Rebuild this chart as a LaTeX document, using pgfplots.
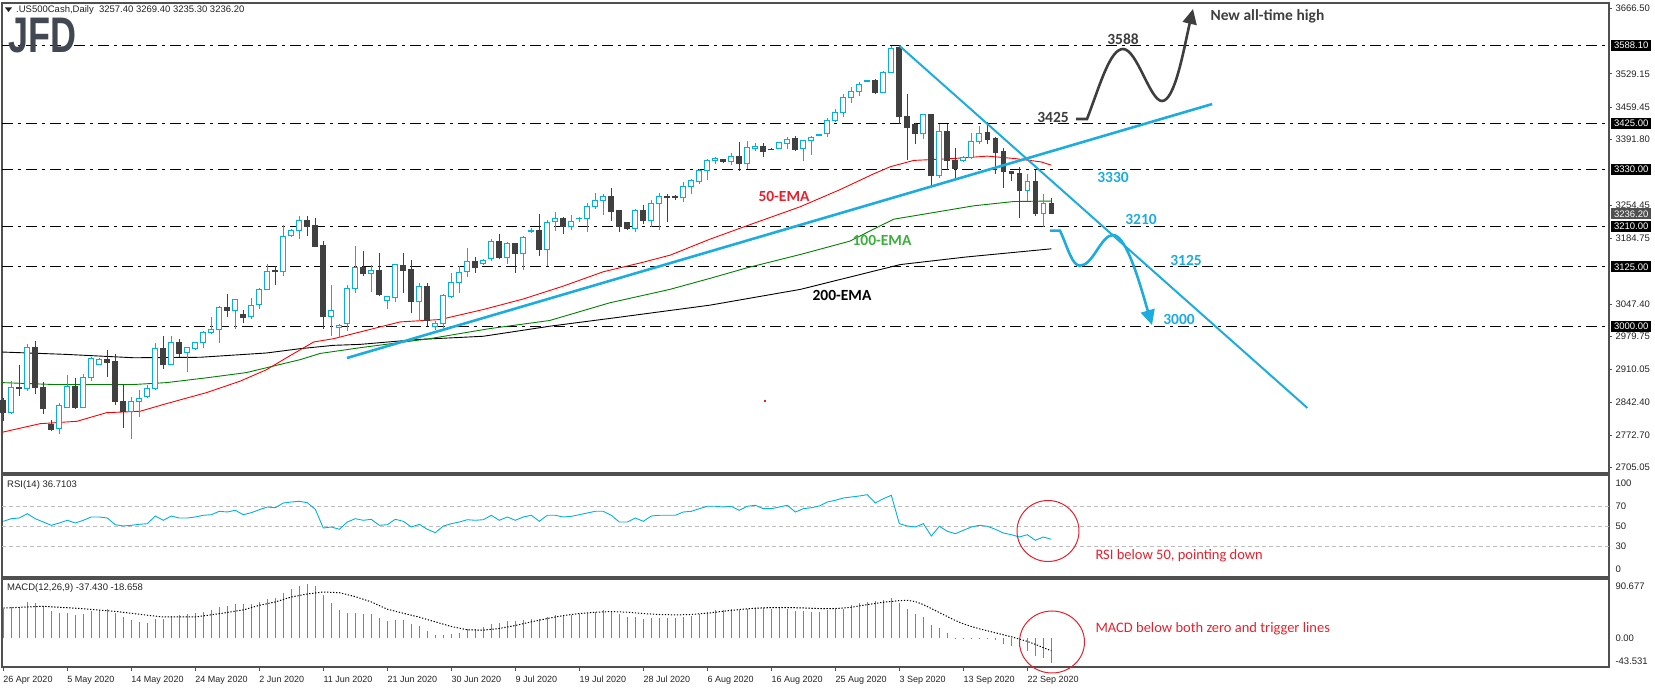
\documentclass[border=0pt]{standalone}
\usepackage{pgfplots}
\pgfplotsset{compat=1.18}
\usepackage{pgfplotstable}
\usepackage{fontspec}
\setmainfont{Liberation Sans}
\newfontfamily\calib{Carlito}
\usetikzlibrary{arrows.meta}

\definecolor{upc}{RGB}{0,178,222}
\definecolor{dnc}{RGB}{64,64,64}
\definecolor{trendc}{RGB}{28,172,222}
\definecolor{emared}{RGB}{255,0,0}
\definecolor{emagreen}{RGB}{0,128,0}
\definecolor{framec}{RGB}{80,80,80}
\definecolor{labc}{RGB}{35,35,35}
\definecolor{annred}{RGB}{232,32,44}
\definecolor{anngreen}{RGB}{60,175,60}
\definecolor{anndark}{RGB}{62,62,62}
\definecolor{logoc}{RGB}{66,72,82}
\definecolor{gridc}{RGB}{190,190,190}
\definecolor{histc}{RGB}{30,165,208}
\definecolor{pricebox}{RGB}{80,80,80}

\newcommand\lab{\fontsize{9.5}{10}\selectfont}
\newcommand\ann{\calib\bfseries\fontsize{15.5}{16}\selectfont}

% daily candles, bar index from 26 Apr 2020
\pgfplotstableread{
i o h l c
0 2846 2850 2802 2820
1 2821 2886 2818 2872
2 2873 2919 2855 2871
3 2870 2964 2865 2956
4 2956 2971 2860 2872
5 2872 2885 2818 2828
6 2795 2804 2781 2785
7 2786 2841 2776 2835
8 2832 2898 2832 2874
9 2874 2892 2828 2832
10 2832 2900 2829 2893
11 2893 2936 2886 2933
12 2922 2934 2920 2931
13 2931 2952 2895 2926
14 2927 2943 2836 2844
15 2844 2880 2788 2823
16 2823 2853 2764 2844
17 2844 2867 2811 2849
18 2855 2879 2851 2870
19 2870 2966 2867 2954
20 2954 2980 2912 2920
21 2920 2980 2920 2968
22 2968 2975 2936 2945
23 2947 2956 2906 2956
24 2954 2968 2952 2968
25 2966 2992 2956 2987
26 2987 3020 2985 2994
27 2994 3043 2966 3040
28 3040 3068 3020 3033
29 3033 3056 2996 3056
30 3026 3034 3008 3020
31 3021 3061 3017 3045
32 3047 3082 3036 3077
33 3077 3132 3077 3116
34 3118 3128 3087 3115
35 3115 3212 3106 3188
36 3190 3205 3188 3202
37 3202 3232 3183 3223
38 3223 3232 3190 3209
39 3211 3228 3167 3169
40 3170 3179 2996 3022
41 3022 3087 2980 3035
42 2998 3006 2977 3003
43 3006 3087 2990 3080
44 3080 3168 3071 3123
45 3123 3158 3106 3112
46 3112 3130 3072 3118
47 3118 3155 3064 3068
48 3054 3065 3036 3063
49 3062 3130 3052 3130
50 3128 3155 3070 3118
51 3120 3139 3028 3052
52 3052 3091 3014 3084
53 3084 3092 3001 3014
54 3000 3012 2994 3006
55 3006 3068 2998 3065
56 3064 3112 3061 3092
57 3092 3128 3070 3113
58 3115 3164 3105 3137
59 3137 3146 3113 3123
60 3132 3142 3129 3139
61 3142 3183 3137 3179
62 3179 3193 3141 3144
63 3144 3177 3132 3174
64 3174 3174 3113 3153
65 3153 3190 3119 3186
66 3200 3207 3197 3202
67 3202 3235 3148 3162
68 3162 3223 3127 3219
69 3220 3241 3200 3226
70 3226 3230 3195 3209
71 3209 3233 3202 3221
72 3226 3229 3220 3227
73 3226 3258 3198 3251
74 3251 3280 3247 3265
75 3265 3278 3234 3273
76 3273 3291 3221 3242
77 3243 3245 3199 3209
78 3218 3220 3202 3205
79 3205 3246 3198 3243
80 3243 3254 3214 3223
81 3223 3265 3209 3259
82 3259 3280 3202 3272
83 3272 3277 3219 3270
84 3272 3275 3265 3270
85 3270 3303 3261 3293
86 3293 3310 3277 3307
87 3305 3331 3299 3327
88 3327 3352 3307 3347
89 3347 3355 3340 3352
90 3350 3352 3343 3345
91 3345 3364 3338 3356
92 3356 3387 3326 3341
93 3341 3389 3331 3375
94 3374 3385 3368 3377
95 3377 3385 3355 3366
96 3372 3373 3370 3371
97 3373 3387 3371 3385
98 3384 3396 3371 3391
99 3394 3400 3368 3371
100 3373 3390 3347 3390
101 3389 3399 3359 3396
102 3401 3403 3400 3402
103 3404 3437 3397 3432
104 3432 3455 3429 3448
105 3448 3486 3439 3479
106 3479 3502 3469 3492
107 3492 3512 3483 3507
108 3513 3517 3512 3516
109 3516 3518 3486 3491
110 3491 3535 3490 3532
111 3532 3588 3530 3583
112 3584 3588 3424 3439
113 3439 3486 3348 3418
114 3424 3427 3382 3404
115 3404 3446 3392 3444
116 3444 3446 3296 3317
117 3317 3424 3312 3408
118 3408 3425 3327 3349
119 3349 3375 3310 3331
120 3348 3357 3345 3355
121 3355 3406 3352 3387
122 3387 3420 3382 3405
123 3406 3429 3382 3392
124 3394 3396 3320 3364
125 3366 3373 3291 3324
126 3324 3326 3305 3320
127 3320 3334 3228 3286
128 3286 3320 3263 3305
129 3305 3329 3232 3237
130 3237 3278 3209 3257
131 3257.4 3269.4 3235.3 3236.2
}\candles

\pgfplotstableread{
i v
0 54.7
1 57.3
2 58
3 62.3
4 57.3
5 54
6 50.7
7 53
8 55.7
9 53
10 55.7
11 59
12 59
13 58
14 51.3
15 50
16 50.7
17 51.7
18 52.3
19 60
20 55.7
21 60
22 58
23 58
24 59
25 60.7
26 61.3
27 64.7
28 64
29 65.7
30 61.3
31 63.3
32 66.3
33 69
34 68.3
35 73
36 74
37 74.7
38 73.3
39 66.7
40 48
41 49
42 46.7
43 54
44 57.3
45 55.7
46 56.7
47 50.7
48 51.3
49 56.7
50 54.7
51 49
52 51.7
53 46.7
54 43.3
55 50
56 52.3
57 54
58 56.3
59 55.7
60 56.3
61 60.7
62 55.7
63 59
64 55.7
65 59
66 60.7
67 54.7
68 60.7
69 60.7
70 59
71 59.7
72 61.3
73 63
74 64.7
75 64.7
76 60.7
77 54
78 54
79 58
80 54.7
81 60
82 60.7
83 60.7
84 60.7
85 64
86 64.7
87 67.3
88 69.7
89 69.7
90 69
91 69.7
92 65.7
93 69.7
94 70.7
95 67.3
96 67.3
97 69
98 70.7
99 64
100 67.3
101 68.3
102 70
103 74
104 75.7
105 78
106 79
107 80
108 81.3
109 73
110 77.3
111 80.7
112 52.3
113 50
114 49
115 52.3
116 40
117 49.7
118 44.7
119 42.3
120 45.7
121 49
122 50.7
123 49.7
124 46.7
125 43
126 41.3
127 39
128 41.3
129 35.7
130 39
131 36.7
}\rsi

\pgfplotstableread{
i v
0 44.8
1 47.3
2 47.3
3 54.9
4 53.4
5 48.9
6 41.3
7 38.3
8 38.3
9 34.8
10 36.8
11 41.8
12 43.3
13 43.8
14 38.3
15 32.3
16 28.3
17 24.7
18 23.2
19 29.8
20 29.8
21 33.8
22 34.8
23 37.3
24 38.3
25 39.8
26 43.3
27 47.3
28 48.9
29 51.4
30 51.4
31 51.4
32 54.9
33 59.9
34 60.9
35 68.4
36 74.0
37 79.0
38 81.5
39 79.0
40 64.9
41 53.4
42 43.3
43 38.3
44 38.3
45 36.3
46 36.3
47 31.3
48 26.3
49 28.3
50 28.3
51 21.2
52 18.2
53 11.2
54 5.6
55 5.6
56 7.1
57 8.6
58 13.6
59 13.6
60 17.2
61 22.2
62 23.2
63 25.7
64 26.3
65 27.3
66 29.8
67 29.8
68 32.3
69 34.8
70 34.8
71 34.8
72 37.3
73 38.8
74 39.8
75 43.3
76 40.8
77 37.3
78 32.3
79 32.3
80 29.8
81 31.3
82 31.3
83 31.3
84 31.3
85 32.3
86 33.8
87 36.3
88 39.8
89 43.3
90 43.3
91 44.8
92 43.3
93 44.8
94 45.8
95 45.8
96 44.8
97 45.8
98 44.8
99 41.3
100 41.3
101 39.8
102 39.8
103 43.3
104 43.8
105 44.8
106 50.9
107 53.4
108 54.9
109 55.9
110 57.4
111 60.9
112 53.4
113 44.8
114 36.3
115 32.3
116 20.7
117 15.7
118 8.1
119 1.0
120 1.0
121 1.0
122 1.0
123 1.0
124 -3
125 -8
126 -12
127 -13
128 -19.6
129 -27.1
130 -30
131 -37.43
}\macd

\pgfplotstableread{
i v
0 45.8
5 48.4
10 44.8
14 40.8
18 35
20 32.3
24 32.3
27 37.3
30 43
32 49.9
34 55
36 62.4
38 67
40 70
42 69
44 63
46 55
48 44
50 38
52 32
54 25
56 18
58 13
60 12.5
62 15
64 19.5
66 25
68 30
70 34.5
72 37.5
74 39.5
76 40.5
78 39.5
80 37.5
82 36
84 35.5
86 36
88 38
90 41
92 43.5
94 45.5
96 46.5
98 46.5
100 46
102 45
104 45
106 47
108 51
110 54.5
112 57
113 57.5
114 55.5
115 51
116 45
117 39
118 33
119 27
120 22
121 18
122 14.5
123 11.5
124 8.5
125 5.5
126 2.5
127 -1
128 -4.5
129 -9
130 -14
131 -18.66
}\signal

\pgfplotsset{
  panel/.style={
    scale only axis, anchor=south west, width=1607pt,
    xmin=-0.16, xmax=200.7,
    axis line style={draw=framec, line width=1.2pt},
    clip=false,
  },
  level/.style={black, line width=1pt, dash pattern=on 11pt off 5pt on 3pt off 5pt},
}

\begin{document}
\begin{tikzpicture}[x=1pt,y=1pt]
\useasboundingbox (0,0) rectangle (1655,688);

% ---------- price panel
\begin{axis}[panel, at={(2pt,215pt)}, height=470pt,
  ymin=2693.8, ymax=3677.5,
  xtick=\empty,
  ytick={2705.05,2772.70,2842.40,2910.05,2979.75,3047.40,3184.75,3254.45,3391.80,3459.45,3529.15,3666.50},
  ytick pos=right, yticklabel pos=right, tick align=outside,
  major tick length=3pt, tick style={framec, line width=0.8pt},
  yticklabel style={font=\lab, text=labc, /pgf/number format/.cd, fixed, fixed zerofill, precision=2, 1000 sep={}, assume math mode=true},
]
\foreach \v in {3588.1,3425,3330,3210,3125,3000}{
  \edef\cmd{\noexpand\addplot[level] coordinates {(-0.16,\v) (200.7,\v)};}\cmd
}
\addplot[black, line width=0.9pt] coordinates {(-0.16,2947) (7.9,2942) (16.3,2935) (24.6,2936) (32.9,2945) (37.1,2954) (41.3,2961) (44.6,2963) (51.6,2973) (60,2980) (68.3,3001) (76.6,3019) (88.3,3045) (99.6,3078) (112.1,3130) (120.4,3146) (131,3163)};
\addplot[emagreen, line width=0.9pt] coordinates {(-0.16,2883) (6.3,2879) (16.3,2879) (20.4,2883) (25.4,2893) (30.4,2904) (34.6,2921) (37.1,2931) (39.6,2944) (44.6,2956) (53.3,2975) (60.8,2996) (68.3,3013) (75.8,3050) (83.3,3078) (88.3,3101) (92.9,3123) (99.6,3151) (105.8,3179) (109.6,3211) (111.3,3225) (116.3,3239) (121.3,3253) (126.3,3262) (131,3263)};
\addplot[emared, line width=0.9pt] coordinates {(-0.16,2779) (4.6,2797) (9.2,2802) (12.9,2820) (17.1,2823) (20.4,2839) (25.4,2862) (29.6,2886) (32.9,2910) (35.4,2935) (38.8,2968) (41.3,2975) (44.6,2989) (49.6,3010) (54.6,3015) (60,3036) (65,3058) (70,3085) (75,3115) (80,3135) (83.4,3150) (88.3,3183) (92.9,3211) (99.6,3251) (104.6,3287) (108.8,3320) (110.9,3335) (113.8,3348) (118.8,3352) (123,3357) (126.4,3352) (129.7,3345) (131,3338)};

\pgfplotstablegetrowsof{\candles}
\pgfmathtruncatemacro\nlast{\pgfplotsretval-1}
\pgfplotsforeachungrouped \k in {0,...,\nlast}{%
  \pgfplotstablegetelem{\k}{i}\of\candles\let\ci\pgfplotsretval
  \pgfplotstablegetelem{\k}{o}\of\candles\let\co\pgfplotsretval
  \pgfplotstablegetelem{\k}{h}\of\candles\let\ch\pgfplotsretval
  \pgfplotstablegetelem{\k}{l}\of\candles\let\cl\pgfplotsretval
  \pgfplotstablegetelem{\k}{c}\of\candles\let\cc\pgfplotsretval
  \pgfmathsetmacro\xa{\ci-0.3}%
  \pgfmathsetmacro\xb{\ci+0.3}%
  \pgfmathtruncatemacro\up{\cc>=\co}%
  \ifnum\up=1 \def\bodystyle{draw=upc,fill=white}\def\wickc{upc}%
  \else \def\bodystyle{draw=dnc,fill=dnc}\def\wickc{dnc}\fi
  \edef\cmd{%
    \noexpand\addplot[\wickc, line width=0.9pt] coordinates {(\ci,\cl) (\ci,\ch)};
    \noexpand\addplot[\bodystyle, line width=0.9pt] coordinates {(\xa,\co) (\xb,\co) (\xb,\cc) (\xa,\cc)} --cycle;
  }\cmd
}

% trend lines
\addplot[trendc, line width=2.6pt] coordinates {(42.96,2934.5) (151.1,3466)};
\addplot[trendc, line width=2pt] coordinates {(112,3588) (163,2830)};

% price boxes
\foreach \v/\t in {3588.1/3588.10,3425/3425.00,3330/3330.00,3210/3210.00,3125/3125.00,3000/3000.00}{
  \edef\cmd{\noexpand\node[fill=black, text=white, font=\noexpand\lab, inner sep=0pt, minimum width=40pt, minimum height=11pt, anchor=west, xshift=2pt] at (axis cs:200.7,\v) {\t};}\cmd
}
\node[fill=pricebox, text=white, font=\lab, inner sep=0pt, minimum width=40pt, minimum height=11pt, anchor=west, xshift=2pt] at (axis cs:200.7,3236.2) {3236.20};
\end{axis}

% ---------- RSI panel
\begin{axis}[panel, at={(2pt,111pt)}, height=102pt,
  ymin=-1, ymax=101, xtick=\empty, ytick=\empty]
\foreach \v in {30,50,70}{
  \edef\cmd{\noexpand\addplot[gridc, line width=0.9pt, dash pattern=on 4pt off 3pt] coordinates {(-0.16,\v) (200.7,\v)};}\cmd
}
\addplot[upc, line width=0.9pt] table[x=i, y=v] {\rsi};
\foreach \v/\t in {93/100,70/70,50/50,30/30,7/0}{
  \edef\cmd{\noexpand\node[anchor=west, font=\noexpand\lab, text=labc, xshift=3pt] at (axis cs:200.7,\v) {\t};}\cmd
}
\end{axis}

% ---------- MACD panel
\begin{axis}[panel, at={(2pt,21pt)}, height=88pt,
  ymin=-43.1, ymax=89.6, ytick=\empty,
  xtick={0,8,...,128},
  xticklabels={26 Apr 2020,5 May 2020,14 May 2020,24 May 2020,2 Jun 2020,11 Jun 2020,21 Jun 2020,30 Jun 2020,9 Jul 2020,19 Jul 2020,28 Jul 2020,6 Aug 2020,16 Aug 2020,25 Aug 2020,3 Sep 2020,13 Sep 2020,22 Sep 2020},
  xtick pos=bottom, tick align=outside, major tick length=4pt,
  tick style={framec, line width=0.8pt},
  xticklabel style={font=\fontsize{9}{10}\selectfont, text=labc, anchor=north west, inner sep=0pt, yshift=-5pt},
]
\addplot[ycomb, histc, line width=1.2pt, mark=none] table[x=i, y=v] {\macd};
\addplot[black, line width=1pt, dash pattern=on 1.3pt off 1.7pt] table[x=i, y=v] {\signal};
\node[anchor=west, font=\lab, text=labc, xshift=3pt] at (axis cs:200.7,79) {90.677};
\node[anchor=west, font=\lab, text=labc, xshift=3pt] at (axis cs:200.7,0) {0.00};
\node[anchor=west, font=\lab, text=labc, xshift=3pt] at (axis cs:200.7,-34) {-43.531};
\end{axis}

% ---------- header, logo, panel titles
\fill[labc] (5,680.5) -- (12,680.5) -- (8.5,676) -- cycle;
\node[anchor=west, font=\lab, text=labc, inner sep=0pt] at (16,678) {.US500Cash,Daily\ \ 3257.40 3269.40 3235.30 3236.20};
\node[anchor=north west, inner sep=0pt, text=logoc, font=\fontsize{50}{50}\selectfont\bfseries, xscale=0.72] at (8,670) {JFD};
\node[anchor=west, font=\lab, text=labc, inner sep=0pt] at (7,203) {RSI(14) 36.7103};
\node[anchor=west, font=\lab, text=labc, inner sep=0pt] at (7,100) {MACD(12,26,9) -37.430 -18.658};

% ---------- annotations
\node[font=\ann, text=annred] at (784,492) {50-EMA};
\node[font=\ann, text=anngreen] at (882,447.3) {100-EMA};
\node[font=\ann, text=black] at (842,393) {200-EMA};
\fill[annred] (764,286.3) rectangle (766,288.3);

\draw[anndark, line width=2.6pt, -{Triangle[width=14pt,length=15pt]}]
  (1076,569) -- (1087,569) .. controls (1100,603) and (1110,639) .. (1123,639)
  .. controls (1137,639) and (1150,587) .. (1162,587)
  .. controls (1175,587) and (1184,640) .. (1193,679);
\node[font=\ann, text=anndark] at (1053,571) {3425};
\node[font=\ann, text=anndark] at (1123,649) {3588};
\node[font=\ann, text=anndark, anchor=west] at (1207,672) {New all-time high};

\draw[trendc, line width=2.6pt, -{Triangle[width=14pt,length=15pt]}]
  (1050,457.3) -- (1060,457.3) .. controls (1068,440) and (1072,422.3) .. (1080,422.3)
  .. controls (1093,422.3) and (1101,453) .. (1113,453)
  .. controls (1127,453) and (1141,400) .. (1152,363);
\node[font=\ann, text=trendc] at (1113,511) {3330};
\node[font=\ann, text=trendc] at (1141,469) {3210};
\node[font=\ann, text=trendc] at (1186,428) {3125};
\node[font=\ann, text=trendc] at (1179,369) {3000};

\draw[annred, line width=1pt] (1048,157) ellipse (31 and 30.5);
\draw[annred, line width=1pt] (1052,46) ellipse (32.5 and 31);
\node[anchor=west, font=\calib\fontsize{14.5}{15}\selectfont, text=annred] at (1092,132) {RSI below 50, pointing down};
\node[anchor=west, font=\calib\fontsize{14.5}{15}\selectfont, text=annred] at (1092,59) {MACD below both zero and trigger lines};
\end{tikzpicture}
\end{document}
